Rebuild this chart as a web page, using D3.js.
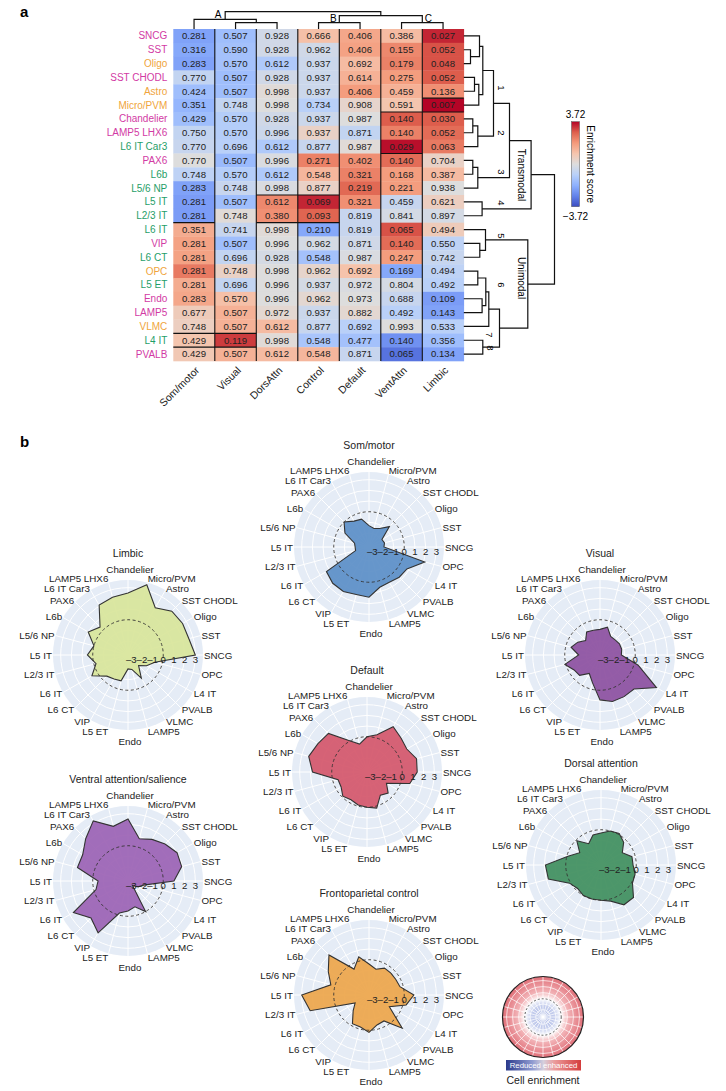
<!DOCTYPE html>
<html>
<head>
<meta charset="utf-8">
<script src="https://cdn.jsdelivr.net/npm/d3@7"></script>
<style>
  body { margin: 0; background: #fff; }
  svg { font-family: "Liberation Sans", Arial, sans-serif; }
</style>
</head>
<body>
<div id="fig"></div>
<script>
const W = 726, H = 1091;

// ---- data ----
const networks = ["Som/motor", "Visual", "DorsAttn", "Control", "Default", "VentAttn", "Limbic"];
const cellTypes = ["SNCG", "SST", "Oligo", "SST CHODL", "Astro", "Micro/PVM", "Chandelier", "LAMP5 LHX6",
  "L6 IT Car3", "PAX6", "L6b", "L5/6 NP", "L5 IT", "L2/3 IT", "L6 IT", "VIP", "L6 CT", "OPC", "L5 ET",
  "Endo", "LAMP5", "VLMC", "L4 IT", "PVALB"];
const cellClass = ["inh", "inh", "non", "inh", "non", "non", "inh", "inh", "exc", "inh", "exc", "exc", "exc",
  "exc", "exc", "inh", "exc", "non", "exc", "inh", "inh", "non", "exc", "inh"];

// p values printed in the cells (heatmap row order)
const pSomMotor = [0.281, 0.316, 0.283, 0.770, 0.424, 0.351, 0.429, 0.750, 0.770, 0.770, 0.748, 0.283, 0.281, 0.281, 0.351, 0.281, 0.281, 0.281, 0.281, 0.283, 0.677, 0.748, 0.429, 0.429];
const pVisual = [0.507, 0.590, 0.570, 0.507, 0.507, 0.748, 0.570, 0.570, 0.696, 0.507, 0.570, 0.748, 0.507, 0.748, 0.741, 0.507, 0.696, 0.748, 0.696, 0.570, 0.507, 0.507, 0.119, 0.507];
const pDorsAttn = [0.928, 0.928, 0.612, 0.928, 0.998, 0.998, 0.928, 0.996, 0.612, 0.996, 0.612, 0.998, 0.612, 0.380, 0.998, 0.996, 0.928, 0.998, 0.996, 0.996, 0.972, 0.612, 0.998, 0.612];
const pControl = [0.666, 0.962, 0.937, 0.937, 0.937, 0.734, 0.937, 0.937, 0.877, 0.271, 0.548, 0.877, 0.069, 0.093, 0.210, 0.962, 0.548, 0.962, 0.937, 0.962, 0.937, 0.877, 0.548, 0.548];
const pDefault = [0.406, 0.406, 0.692, 0.614, 0.406, 0.908, 0.987, 0.871, 0.987, 0.402, 0.321, 0.219, 0.321, 0.819, 0.819, 0.871, 0.987, 0.692, 0.972, 0.973, 0.882, 0.692, 0.477, 0.871];
const pVentAttn = [0.386, 0.155, 0.179, 0.275, 0.459, 0.591, 0.140, 0.140, 0.029, 0.140, 0.168, 0.221, 0.459, 0.841, 0.065, 0.140, 0.247, 0.169, 0.804, 0.688, 0.492, 0.993, 0.140, 0.065];
const pLimbic = [0.027, 0.052, 0.048, 0.052, 0.136, 0.007, 0.030, 0.052, 0.063, 0.704, 0.387, 0.938, 0.621, 0.897, 0.494, 0.550, 0.742, 0.494, 0.492, 0.109, 0.143, 0.533, 0.356, 0.134];

// enrichment scores (heatmap row order)
const sSomMotor = [-1.9, -1.8, -1.9, -0.6, -1.3, -1.5, -1.3, -0.6, -0.5, 0.0, -0.7, -1.9, -2.0, -2.0, 1.3, 1.5, 1.5, 2.1, 1.3, 1.4, 0.6, 0.5, 0.8, 0.7];
const sVisual = [-1.3, -1.2, -1.2, -1.3, -1.3, -0.6, -0.9, -0.9, -0.8, -1.4, -0.9, -0.5, -1.3, 0.1, -0.5, -1.3, -0.6, 0.4, -0.6, 0.9, 1.2, 1.2, 2.8, 1.2];
const sDorsAttn = [-0.3, -0.3, -1.0, -0.3, 0.1, 0.0, -0.3, -0.4, -1.0, -0.1, -1.0, -0.1, 1.9, 1.8, 0.1, 0.0, -0.2, 0.0, 0.0, 0.0, 0.2, 1.0, 0.1, 1.0];
const sControl = [0.9, -0.3, -0.4, -0.4, -0.4, -0.8, -0.4, 0.4, -0.5, 2.0, 1.1, 0.4, 3.0, 2.4, -1.8, -0.2, -1.2, 0.3, -0.2, 0.2, -0.4, -0.5, -1.1, 1.1];
const sDefault = [1.4, 1.5, 1.0, 1.2, 1.6, 0.3, 0.0, -0.6, 0.1, 1.8, 2.0, 2.35, 1.8, -0.5, -0.5, -0.3, -0.1, 0.85, -0.1, 0.0, 0.2, -0.8, -1.2, -0.5];
const sVentAttn = [1.0, 1.9, 2.0, 1.6, 1.2, 0.8, 2.5, 2.0, 3.2, 2.3, 1.6, 1.6, -0.5, -0.2, 2.6, 2.3, 1.6, -1.8, -0.2, -0.5, -0.8, 0.0, -2.2, -2.7];
const sLimbic = [3.0, 2.6, 2.6, 2.5, 1.8, 3.5, 2.5, 2.3, 2.1, 0.4, 1.0, 0.0, 0.5, -0.2, 0.6, -0.7, -0.5, -0.7, -0.8, -2.0, -1.9, -0.8, -1.3, -1.9];

const pvals = [pSomMotor, pVisual, pDorsAttn, pControl, pDefault, pVentAttn, pLimbic];
const scores = [sSomMotor, sVisual, sDorsAttn, sControl, sDefault, sVentAttn, sLimbic];

// angular order of the radar plots (counter-clockwise from east)
const radarOrder = ["SNCG", "SST", "Oligo", "SST CHODL", "Astro", "Micro/PVM", "Chandelier", "LAMP5 LHX6",
  "L6 IT Car3", "PAX6", "L6b", "L5/6 NP", "L5 IT", "L2/3 IT", "L6 IT", "L6 CT", "VIP", "L5 ET", "Endo",
  "LAMP5", "VLMC", "PVALB", "L4 IT", "OPC"];
const radialTicks = [-3, -2, -1, 0, 1, 2, 3];

// black outlines on the heatmap: [first col, last col, row boundary]
const boxLines = [[0, 0, 14], [0, 1, 22], [0, 1, 23], [2, 3, 12], [2, 3, 14], [6, 6, 5], [5, 6, 6], [5, 5, 9]];

// dendrograms (leaf = index, h = link height in px)
const colTree = {h: 17.3, c: [
  {h: 9.7, lab: "A", c: [0, {h: 6.3, c: [1, 2]}]},
  {h: 13.3, c: [{h: 6.3, lab: "B", c: [3, 4]}, {h: 6.3, lab: "C", c: [5, 6]}]}
]};
const rowTree = {h: 90.7, c: [
  {h: 67.3, c: [
    {h: 45.7, c: [
      {h: 29.7, c: [
        {h: 19, c: [{h: 15.7, c: [0, {h: 6.7, c: [1, 2]}]}, {h: 15, c: [{h: 10.7, c: [3, 4]}, 5]}]},
        {h: 14, c: [{h: 9, c: [6, 7]}, 8]}
      ]},
      {h: 14, c: [{h: 9, c: [9, 10]}, 11]}
    ]},
    {h: 18.3, c: [12, 13]}
  ]},
  {h: 64, c: [
    {h: 21.7, c: [14, {h: 16, c: [15, 16]}]},
    {h: 35.7, c: [
      {h: 25, c: [{h: 22, c: [{h: 14, c: [17, 18]}, {h: 18.3, c: [19, 20]}]}, 21]},
      {h: 19, c: [22, 23]}
    ]}
  ]}
]};
const clusterLabels = [["1", 498, 88], ["2", 498, 133], ["3", 498, 172], ["4", 498, 203], ["5", 498, 236],
  ["6", 498, 285], ["7", 486, 335], ["8", 487, 348]];

const svg = d3.select("#fig").append("svg").attr("width", W).attr("height", H);

svg.append("text").attr("x", 20).attr("y", 17).attr("font-size", 15).attr("font-weight", "bold").text("a");
svg.append("text").attr("x", 20).attr("y", 447).attr("font-size", 15).attr("font-weight", "bold").text("b");

// ---- heatmap ----
const hmX0 = 173.3, hmX1 = 463.8, hmY0 = 29, hmY1 = 361;
const x = d3.scaleBand().domain(networks).range([hmX0, hmX1]);
const y = d3.scaleBand().domain(cellTypes).range([hmY0, hmY1]);

const coolwarm = ["#3b4cc0", "#6282ea", "#8db0fe", "#b8d0f9", "#dddddd", "#f5c4ad", "#f49a7b", "#de604d", "#b40426"];
const cellLim = 3.3;
const color = d3.scaleLinear()
  .domain(d3.range(coolwarm.length).map(i => -cellLim + i * 2 * cellLim / (coolwarm.length - 1)))
  .range(coolwarm).clamp(true);

const classColor = {inh: "#d23aa4", exc: "#1f9e68", non: "#f0a53c"};

const cells = [];
networks.forEach((n, j) => cellTypes.forEach((c, i) => {
  cells.push({net: n, cell: c, p: pvals[j][i], s: scores[j][i]});
}));

const hm = svg.append("g");
hm.selectAll("rect").data(cells).join("rect")
  .attr("x", d => x(d.net)).attr("y", d => y(d.cell))
  .attr("width", x.bandwidth() + 0.3).attr("height", y.bandwidth() + 0.3)
  .attr("fill", d => color(d.s));
hm.selectAll("text").data(cells).join("text")
  .attr("x", d => x(d.net) + x.bandwidth() / 2).attr("y", d => y(d.cell) + y.bandwidth() / 2 + 3.4)
  .attr("text-anchor", "middle").attr("font-size", 9.6).attr("fill", "#222")
  .text(d => d.p.toFixed(3));

// column separators
hm.selectAll("line.sep").data(networks.slice(1)).join("line").attr("class", "sep")
  .attr("x1", d => x(d)).attr("x2", d => x(d)).attr("y1", hmY0).attr("y2", hmY1)
  .attr("stroke", "#111").attr("stroke-width", 1.1);
hm.selectAll("line.box").data(boxLines).join("line").attr("class", "box")
  .attr("x1", d => x(networks[d[0]])).attr("x2", d => x(networks[d[1]]) + x.bandwidth())
  .attr("y1", d => hmY0 + d[2] * y.bandwidth()).attr("y2", d => hmY0 + d[2] * y.bandwidth())
  .attr("stroke", "#111").attr("stroke-width", 1.1);

// row labels
svg.append("g").selectAll("text").data(cellTypes).join("text")
  .attr("x", hmX0 - 6).attr("y", d => y(d) + y.bandwidth() / 2 + 3.5)
  .attr("text-anchor", "end").attr("font-size", 10)
  .attr("fill", (d, i) => classColor[cellClass[i]])
  .text(d => d);

// column labels
svg.append("g").selectAll("text").data(networks).join("text")
  .attr("transform", d => `translate(${x(d) + x.bandwidth() / 2 + 6},${hmY1 + 10}) rotate(-45)`)
  .attr("text-anchor", "end").attr("font-size", 10.5).attr("fill", "#222")
  .text(d => d);

// dendrograms
function drawTree(g, node, pos, toXY) {
  if (typeof node === "number") return {p: pos(node), h: 0};
  const kids = node.c.map(k => drawTree(g, k, pos, toXY));
  const a = kids[0], b = kids[1];
  const pts = [toXY(a.p, a.h), toXY(a.p, node.h), toXY(b.p, node.h), toXY(b.p, b.h)];
  g.append("path").attr("d", d3.line()(pts)).attr("fill", "none")
    .attr("stroke", "#111").attr("stroke-width", 1.2);
  const mid = (a.p + b.p) / 2;
  if (node.lab) {
    const off = {A: -7, B: -6, C: 6}[node.lab];
    const [lx, ly] = toXY(mid, node.h);
    g.append("text").attr("x", lx + off).attr("y", ly - 1).attr("text-anchor", "middle")
      .attr("font-size", 10).text(node.lab);
  }
  return {p: mid, h: node.h};
}
const dg = svg.append("g");
drawTree(dg, colTree, i => x(networks[i]) + x.bandwidth() / 2, (p, h) => [p, hmY0 - h]);
drawTree(dg, rowTree, i => y(cellTypes[i]) + y.bandwidth() / 2, (p, h) => [hmX1 + h, p]);

dg.selectAll("text.cl").data(clusterLabels).join("text").attr("class", "cl")
  .attr("transform", d => `translate(${d[1]},${d[2]}) rotate(90)`)
  .attr("text-anchor", "middle").attr("font-size", 9.5).text(d => d[0]);
[["Transmodal", 175], ["Unimodal", 278]].forEach(([t, cy]) => {
  dg.append("text").attr("transform", `translate(518,${cy}) rotate(90)`)
    .attr("text-anchor", "middle").attr("font-size", 10).text(t);
});

// colour bar
const defs = svg.append("defs");
const vg = defs.append("linearGradient").attr("id", "cbar").attr("x1", 0).attr("x2", 0).attr("y1", 1).attr("y2", 0);
coolwarm.forEach((c, i) => vg.append("stop").attr("offset", i / (coolwarm.length - 1)).attr("stop-color", c));
const cbScale = d3.scaleLinear().domain([-3.72, 3.72]).range([206.7, 121.7]);
svg.append("rect").attr("x", 571.5).attr("y", cbScale(3.72)).attr("width", 8)
  .attr("height", cbScale(-3.72) - cbScale(3.72)).attr("fill", "url(#cbar)")
  .attr("stroke", "#555").attr("stroke-width", 0.5);
svg.append("text").attr("x", 575.5).attr("y", cbScale(3.72) - 4).attr("text-anchor", "middle")
  .attr("font-size", 10).text("3.72");
svg.append("text").attr("x", 575.5).attr("y", cbScale(-3.72) + 13).attr("text-anchor", "middle")
  .attr("font-size", 10).text("\u22123.72");
svg.append("text").attr("transform", `translate(587,${cbScale(0)}) rotate(90)`)
  .attr("text-anchor", "middle").attr("font-size", 10).text("Enrichment score");

// ---- radar plots ----
const R = 75;
const rScale = d3.scaleLinear().domain([-3.3, 3.72]).range([0, R]).clamp(true);
const angle = d3.scaleLinear().domain([0, radarOrder.length]).range([0, 2 * Math.PI]);

function radar(cx, cy, title, net, fill) {
  const vals = scores[networks.indexOf(net)];
  const g = svg.append("g").attr("transform", `translate(${cx},${cy})`);
  g.append("circle").attr("r", R).attr("fill", "#e5ecf6");
  g.selectAll("circle.grid").data(radialTicks).join("circle").attr("class", "grid")
    .attr("r", d => rScale(d)).attr("fill", "none").attr("stroke", "#fff").attr("stroke-width", 1);
  g.selectAll("line.spoke").data(radarOrder).join("line").attr("class", "spoke")
    .attr("x2", (d, i) => R * Math.cos(angle(i))).attr("y2", (d, i) => -R * Math.sin(angle(i)))
    .attr("stroke", "#fff").attr("stroke-width", 1);
  const line = d3.lineRadial().curve(d3.curveLinearClosed)
    .angle((d, i) => Math.PI / 2 - angle(i))
    .radius(d => rScale(vals[cellTypes.indexOf(d)]));
  g.append("path").attr("d", line(radarOrder)).attr("fill", fill).attr("fill-opacity", 0.92)
    .attr("stroke", "#333").attr("stroke-width", 1.1);
  g.append("circle").attr("r", rScale(0)).attr("fill", "none").attr("stroke", "#333")
    .attr("stroke-width", 0.9).attr("stroke-dasharray", "3,2.5");
  g.selectAll("text.tick").data(radialTicks).join("text").attr("class", "tick")
    .attr("x", d => rScale(d)).attr("y", 8).attr("text-anchor", "middle")
    .attr("font-size", 9.6).attr("fill", "#222")
    .text(d => d < 0 ? "\u2013" + Math.abs(d) : d);
  g.selectAll("text.cat").data(radarOrder).join("text").attr("class", "cat")
    .each(function (d, i) {
      const a = angle(i), c = Math.cos(a), s = Math.sin(a);
      const rl = 77 + 9 * Math.pow(Math.abs(s), 40);
      d3.select(this)
        .attr("x", 76 * c + (Math.abs(c) < 0.05 ? 2 : 0))
        .attr("y", -rl * s + 3.5)
        .attr("text-anchor", Math.abs(c) < 0.05 ? "middle" : (c > 0 ? "start" : "end"));
    })
    .attr("font-size", 9.8).attr("fill", "#222").text(d => d);
  g.append("text").attr("y", -98).attr("text-anchor", "middle").attr("font-size", 10.5)
    .attr("fill", "#222").text(title);
}

radar(369, 547, "Som/motor", "Som/motor", "#5b8ec7");
radar(128, 655, "Limbic", "Limbic", "#d8e59a");
radar(600, 655, "Visual", "Visual", "#8c4f9f");
radar(367, 772, "Default", "Default", "#d4566a");
radar(128, 881, "Ventral attention/salience", "VentAttn", "#9b62b4");
radar(601, 865, "Dorsal attention", "DorsAttn", "#3f8e5d");
radar(369, 995, "Frontoparietal control", "Control", "#eda54a");

// ---- legend ----
const lg = svg.append("g").attr("transform", "translate(543,1017)");
const rg = defs.append("radialGradient").attr("id", "lgrad");
[[0, "#a9b6e3"], [0.3, "#c8d0ee"], [0.45, "#ffffff"], [0.62, "#f2b3b7"], [1, "#e06f78"]]
  .forEach(([o, c]) => rg.append("stop").attr("offset", o).attr("stop-color", c));
const LR = 40.5;
lg.append("circle").attr("r", LR).attr("fill", "url(#lgrad)");
lg.selectAll("circle.g").data([0.18, 0.32, 0.45, 0.6, 0.75, 0.9]).join("circle").attr("class", "g")
  .attr("r", d => d * LR).attr("fill", "none").attr("stroke", "#fff").attr("stroke-width", 0.9).attr("stroke-opacity", 0.8);
lg.selectAll("line").data(d3.range(24)).join("line")
  .attr("x2", d => LR * Math.cos(angle(d))).attr("y2", d => LR * Math.sin(angle(d)))
  .attr("stroke", "#fff").attr("stroke-width", 0.9).attr("stroke-opacity", 0.8);
lg.append("circle").attr("r", 0.45 * LR).attr("fill", "none").attr("stroke", "#333")
  .attr("stroke-width", 0.8).attr("stroke-dasharray", "2,2");
lg.append("circle").attr("r", LR).attr("fill", "none").attr("stroke", "#222").attr("stroke-width", 1.2);

const hg = defs.append("linearGradient").attr("id", "lbar");
[[0, "#2b3a8c"], [0.35, "#8e9ad0"], [0.5, "#d6cfdc"], [0.65, "#eb9a9a"], [1, "#d43c3c"]]
  .forEach(([o, c]) => hg.append("stop").attr("offset", o).attr("stop-color", c));
lg.append("rect").attr("x", -37).attr("y", 43).attr("width", 75).attr("height", 10.5).attr("fill", "url(#lbar)");
lg.append("text").attr("x", 0.5).attr("y", 51.3).attr("text-anchor", "middle").attr("font-size", 7.8)
  .attr("fill", "#fff").text("Reduced enhanced");
lg.append("text").attr("x", 0).attr("y", 67).attr("text-anchor", "middle").attr("font-size", 10.5)
  .attr("fill", "#222").text("Cell enrichment");
</script>
</body>
</html>
